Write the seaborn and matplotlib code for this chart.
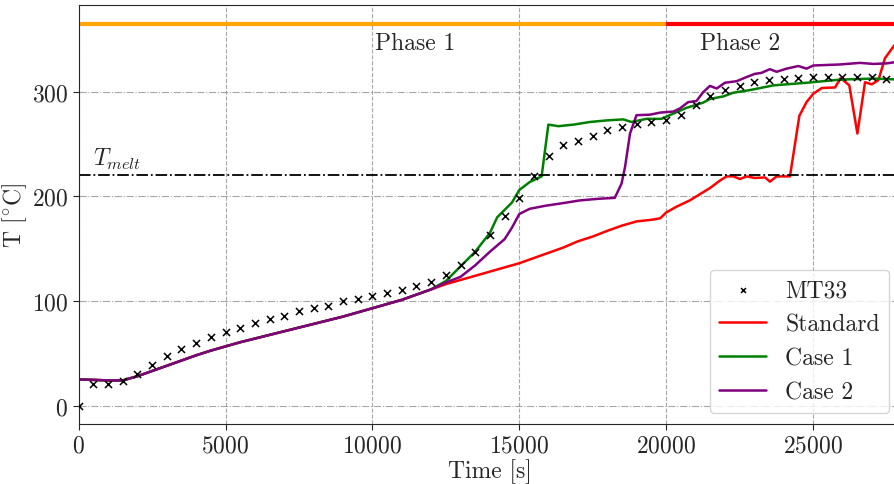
import numpy as np
import matplotlib
matplotlib.use("Agg")
import matplotlib.pyplot as plt
import seaborn as sns

# measured thermocouple MT33, every 500 s
mt33_t = np.arange(0, 28000, 500)
mt33_T = [0, 21, 21, 23, 30.5, 39, 47, 54, 60, 65.5, 70, 74.5, 78.5, 82.5, 86, 90,
          93, 95.5, 99.5, 102, 104.5, 107.5, 110.5, 114.5, 118.5, 124.5, 134, 147,
          163, 181, 198.5, 219.5, 238.5, 249, 253, 258, 263, 266, 269, 271, 273,
          278, 287, 295.5, 301.5, 305.5, 309, 311.5, 312.5, 313.5, 314, 314, 314,
          314, 314, 312.5]

# all simulations share the same curve up to ~12000 s
common_t = np.arange(0, 12500, 500)
common_T = [25, 24.5, 24, 24, 28, 33, 38, 43, 48, 52.5, 56.5, 60.5, 64, 67.5, 71,
            74.5, 78, 81.5, 85, 89, 93, 97, 101, 106, 111]

std_t = [12500, 13000, 13500, 14000, 14500, 15000, 15500, 16000, 16500, 17000,
         17500, 18000, 18500, 19000, 19500, 19800, 20000, 20350, 20800, 21150,
         21500, 21830, 22060, 22290, 22510, 22740, 23020, 23365, 23535, 23760,
         24215, 24535, 24780, 25010, 25300, 25750, 25940, 26235, 26510, 26770,
         27000, 27225, 27450, 27760, 28000]
std_T = [116, 120, 124, 128, 132, 136, 141, 146, 151, 157, 161.5, 167, 172, 176,
         177.5, 179, 184.5, 190, 196, 202, 208, 215, 219, 219, 216.5, 219, 217.5,
         218, 214, 219, 219, 277, 290, 298, 303.5, 304, 313, 306, 260, 309, 307,
         311, 332, 344, 350]

case1_t = [12500, 13000, 13500, 14000, 14250, 14750, 15000, 15350, 15760, 15990,
           16330, 16850, 17400, 17970, 18540, 18820, 19330, 19840, 20240, 20690,
           21260, 21490, 21950, 22290, 22850, 23650, 24780, 25920, 27050, 28000]
case1_T = [119, 133, 147, 165, 180, 194, 206, 213.5, 219, 268.5, 267, 268.5, 271,
           272.5, 273.5, 271, 274, 274, 279, 284.5, 289.5, 293, 295.5, 299, 301.5,
           306, 308.5, 311.5, 312.5, 311.5]

case2_t = [12500, 13000, 13500, 14000, 14500, 14750, 15000, 15350, 15900, 16500,
           17050, 17650, 18250, 18480, 18600, 18770, 18990, 19450, 19800, 20250,
           20470, 20750, 21030, 21260, 21490, 21720, 22000, 22400, 22740, 23020,
           23250, 23530, 23760, 24100, 24500, 24780, 25010, 25920, 26600, 27050,
           27500, 28000]
case2_T = [117.5, 123, 134, 147, 159, 170, 183, 188, 191, 193.5, 196, 197.5, 198.5,
           212, 228, 260, 277.5, 278, 280, 281, 284, 290, 291, 299.5, 305.5, 303,
           308.5, 310, 314, 317, 318, 321.5, 319, 322, 324.5, 322, 325, 326, 327.5,
           326.5, 327, 329]

t_melt = 220
phase_edges = [0, 20000, 28000]
phase_names = ["Phase 1", "Phase 2"]
phase_colors = ["orange", "red"]
phase_label_x = [10080, 21150]

sns.set_style("white")
plt.rcParams["font.family"] = "serif"
plt.rcParams["font.serif"] = ["cmr10", "DejaVu Serif"]
plt.rcParams["mathtext.fontset"] = "cm"
plt.rcParams["axes.formatter.use_mathtext"] = True
plt.rcParams["font.size"] = 17

fig, ax = plt.subplots(figsize=(8.94, 4.85), dpi=100)
fig.subplots_adjust(left=0.088, right=1.008, bottom=0.123, top=0.988)

sns.scatterplot(x=mt33_t, y=mt33_T, marker="x", color="black", s=26,
                linewidth=1.1, label="MT33", ax=ax, zorder=5)
series = [("Standard", std_t, std_T, "red"),
          ("Case 1", case1_t, case1_T, "green"),
          ("Case 2", case2_t, case2_T, "purple")]
for name, t, T, c in series:
    sns.lineplot(x=np.concatenate([common_t, t]), y=np.concatenate([common_T, T]),
                 color=c, lw=1.8, label=name, ax=ax, estimator=None, sort=False)

ax.axhline(t_melt, color="black", ls="-.", lw=1.3)
ax.text(500, t_melt + 4, r"$T_{melt}$", fontsize=17, va="bottom")

for i in range(len(phase_names)):
    ax.plot(phase_edges[i:i + 2], [365, 365], color=phase_colors[i], lw=3,
            solid_capstyle="butt")
    ax.text(phase_label_x[i], 347, phase_names[i], va="center", fontsize=17)

ax.set_xlim(0, 28000)
ax.set_ylim(-18, 383)
ax.set_xticks([0, 5000, 10000, 15000, 20000, 25000])
ax.set_yticks([0, 100, 200, 300])
ax.grid(axis="x", ls="--", color="gray", alpha=0.7, lw=0.8)
ax.grid(axis="y", ls="-.", color="gray", alpha=0.7, lw=0.8)
ax.tick_params(direction="out", length=4, left=True, bottom=True, labelsize=17)
ax.set_xlabel("Time [s]", fontsize=17, labelpad=1)
ax.set_ylabel(r"T [$^{\circ}$C]", fontsize=17, labelpad=2)
leg = ax.legend(loc="lower right", fontsize=17, markerscale=0.7)

fig.savefig("out.png", dpi=100)
